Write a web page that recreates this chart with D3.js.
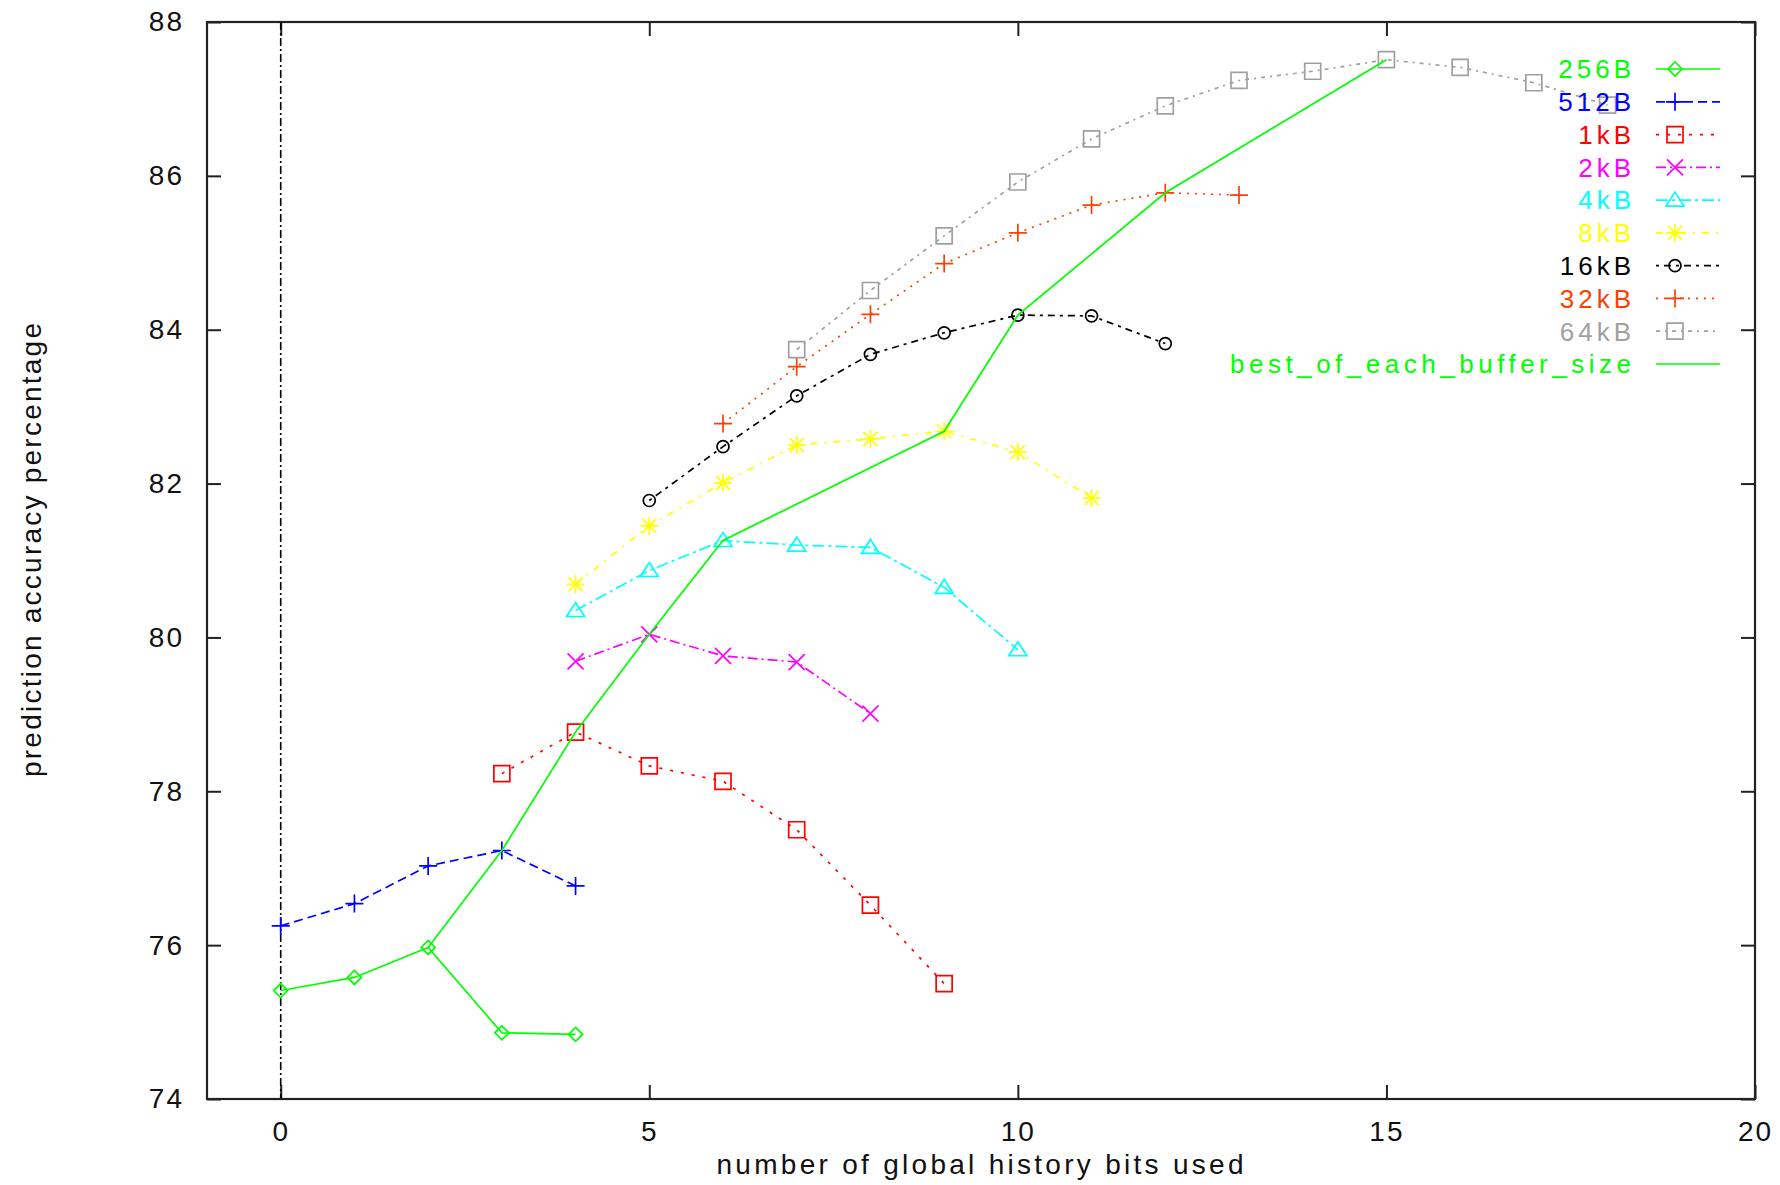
<!DOCTYPE html>
<head>
  <meta charset="utf-8">
  <style>
    body { margin: 0; background: #fff; }
    svg { display: block; font-family: 'Liberation Sans', Arial, sans-serif; }
  </style>
  <script src="https://cdn.jsdelivr.net/npm/d3@7"></script>
</head>
<body>
<div id=chart></div>
<script>
// global history bits (x) and prediction accuracy (y), one pair per buffer size
const bits_256B = [0, 1, 2, 3, 4]
const acc_256B = [75.41, 75.58, 75.97, 74.86, 74.84]
const bits_512B = [0, 1, 2, 3, 4]
const acc_512B = [76.25, 76.54, 77.03, 77.23, 76.77]
const bits_1kB = [3, 4, 5, 6, 7, 8, 9]
const acc_1kB = [78.23, 78.77, 78.33, 78.13, 77.50, 76.52, 75.50]
const bits_2kB = [4, 5, 6, 7, 8]
const acc_2kB = [79.69, 80.04, 79.76, 79.68, 79.01]
const bits_4kB = [4, 5, 6, 7, 8, 9, 10]
const acc_4kB = [80.35, 80.87, 81.26, 81.20, 81.17, 80.65, 79.84]
const bits_8kB = [4, 5, 6, 7, 8, 9, 10, 11]
const acc_8kB = [80.69, 81.45, 82.01, 82.50, 82.58, 82.68, 82.41, 81.81]
const bits_16kB = [5, 6, 7, 8, 9, 10, 11, 12]
const acc_16kB = [81.78, 82.48, 83.14, 83.68, 83.96, 84.19, 84.18, 83.82]
const bits_32kB = [6, 7, 8, 9, 10, 11, 12, 13]
const acc_32kB = [82.78, 83.52, 84.20, 84.86, 85.26, 85.62, 85.78, 85.75]
const bits_64kB = [7, 8, 9, 10, 11, 12, 13, 14, 15, 16, 17, 18]
const acc_64kB = [83.74, 84.51, 85.22, 85.92, 86.48, 86.91, 87.24, 87.36, 87.51, 87.41, 87.21, 86.92]
const bits_best = [2, 3, 4, 5, 6, 9, 10, 12, 15]
const acc_best = [75.97, 77.23, 78.77, 80.04, 81.26, 82.68, 84.19, 85.78, 87.51]

const series_names = ['256B', '512B', '1kB', '2kB', '4kB', '8kB', '16kB', '32kB', '64kB', 'best_of_each_buffer_size']
const x_ticks = [0, 5, 10, 15, 20]
const y_ticks = [74, 76, 78, 80, 82, 84, 86, 88]
const x_title = 'number of global history bits used'
const y_title = 'prediction accuracy percentage'

// styles (gnuplot-ish)
const styles = [
  { color: '#00ff00', dash: null, mark: 'diamond' },
  { color: '#0000ff', dash: '9,5', mark: 'plus' },
  { color: '#ff0000', dash: '3,8', mark: 'square' },
  { color: '#ff00ff', dash: '10,4,2,4', mark: 'cross' },
  { color: '#00ffff', dash: '12,4,3,4', mark: 'triangle' },
  { color: '#ffff00', dash: '7,7,2,7', mark: 'star' },
  { color: '#000000', dash: '3,5,7,5', mark: 'circle' },
  { color: '#ff4000', dash: '2,6', mark: 'plus' },
  { color: '#a0a0a0', dash: '4,5,2,5', mark: 'square' },
  { color: '#00ff00', dash: null, mark: null },
]

const series = [
  [bits_256B, acc_256B], [bits_512B, acc_512B], [bits_1kB, acc_1kB],
  [bits_2kB, acc_2kB], [bits_4kB, acc_4kB], [bits_8kB, acc_8kB],
  [bits_16kB, acc_16kB], [bits_32kB, acc_32kB], [bits_64kB, acc_64kB],
  [bits_best, acc_best],
].map(([xs, ys], i) => ({
  name: series_names[i],
  ...styles[i],
  points: xs.map((x, j) => ({ x, y: ys[j] })),
}))

const width = 1780, height = 1185
const margin = { left: 207, right: 1780 - 1755, top: 22, bottom: 1185 - 1099 }

const x = d3.scaleLinear([-1, 20], [margin.left, width - margin.right])
const y = d3.scaleLinear([74, 88], [height - margin.bottom, margin.top])

const svg = d3.select('#chart').append('svg')
  .attr('width', width)
  .attr('height', height)
  .attr('viewBox', [0, 0, width, height])

svg.append('rect').attr('width', width).attr('height', height).attr('fill', '#fff')

const marker_path = (type) => {
  switch (type) {
    case 'diamond': return 'M0,-7L7,0L0,7L-7,0Z'
    case 'plus': return 'M-9,0H9M0,-9V9'
    case 'square': return 'M-8,-8H8V8H-8Z'
    case 'cross': return 'M-8,-8L8,8M-8,8L8,-8'
    case 'triangle': return 'M0,-8L9,6H-9Z'
    case 'star': return 'M-9,0H9M0,-9V9M-7,-7L7,7M-7,7L7,-7'
    case 'circle': return 'M6,0A6,6 0 1,1 -6,0A6,6 0 1,1 6,0Z'
  }
  return ''
}

const tick_len = 14
const font_size = 28

// axes: ticks inward on all four sides
const ax = svg.append('g').attr('font-size', font_size).attr('fill', '#000')
ax.append('g')
  .attr('transform', `translate(${margin.left},0)`)
  .call(d3.axisLeft(y).tickValues(y_ticks).tickSize(-tick_len).tickPadding(23).tickFormat(d3.format('d')))
ax.append('g')
  .attr('transform', `translate(${width - margin.right},0)`)
  .call(d3.axisRight(y).tickValues(y_ticks).tickSize(-tick_len).tickFormat(''))
ax.append('g')
  .attr('transform', `translate(0,${height - margin.bottom})`)
  .call(d3.axisBottom(x).tickValues(x_ticks).tickSize(-tick_len).tickPadding(22).tickFormat(d3.format('d')))
ax.append('g')
  .attr('transform', `translate(0,${margin.top})`)
  .call(d3.axisTop(x).tickValues(x_ticks).tickSize(-tick_len).tickFormat(''))
ax.selectAll('.domain').remove()
ax.selectAll('.tick line').attr('stroke', '#222').attr('stroke-width', 2)
ax.selectAll('.tick text')
  .attr('font-family', "'Liberation Sans', Arial, sans-serif")
  .attr('font-size', font_size)
  .attr('letter-spacing', 2)
  .attr('fill', '#111')

// zero axis
svg.append('line')
  .attr('x1', x(0)).attr('x2', x(0))
  .attr('y1', margin.top).attr('y2', height - margin.bottom)
  .attr('stroke', '#000')
  .attr('stroke-width', 1.6)
  .attr('stroke-dasharray', '8,3,2,3')

// border
svg.append('rect')
  .attr('x', margin.left).attr('y', margin.top)
  .attr('width', width - margin.left - margin.right)
  .attr('height', height - margin.top - margin.bottom)
  .attr('fill', 'none')
  .attr('stroke', '#222')
  .attr('stroke-width', 2.2)

// series
const line = d3.line().x(d => x(d.x)).y(d => y(d.y))
const g_series = svg.append('g')
series.forEach(s => {
  const g = g_series.append('g')
  g.append('path')
    .attr('d', line(s.points))
    .attr('fill', 'none')
    .attr('stroke', s.color)
    .attr('stroke-width', 1.7)
    .attr('stroke-dasharray', s.dash)
  if (s.mark) {
    g.selectAll('path.mark')
      .data(s.points)
      .join('path')
      .attr('class', 'mark')
      .attr('transform', d => `translate(${x(d.x)},${y(d.y)})`)
      .attr('d', marker_path(s.mark))
      .attr('fill', 'none')
      .attr('stroke', s.color)
      .attr('stroke-width', 1.7)
  }
})

// legend
const legend = svg.append('g')
const legend_y = d3.scaleLinear([0, series.length - 1], [69, 364])
series.forEach((s, i) => {
  const row = legend.append('g').attr('transform', `translate(0,${legend_y(i)})`)
  const label = row.append('text')
    .attr('x', 1635)
    .attr('dy', '0.36em')
    .attr('text-anchor', 'end')
    .attr('font-size', 26)
    .attr('fill', s.color)
    .text(s.name)
  if (s.mark) label.attr('letter-spacing', 4)
  else label.attr('x', 1631).attr('textLength', 401).attr('lengthAdjust', 'spacing')
  row.append('line')
    .attr('x1', 1656).attr('x2', 1720)
    .attr('stroke', s.color)
    .attr('stroke-width', 1.7)
    .attr('stroke-dasharray', s.dash)
  if (s.mark) {
    row.append('path')
      .attr('transform', 'translate(1675,0)')
      .attr('d', marker_path(s.mark))
      .attr('fill', 'none')
      .attr('stroke', s.color)
      .attr('stroke-width', 1.7)
  }
})

// axis titles
svg.append('text')
  .attr('x', 980).attr('y', 1174)
  .attr('text-anchor', 'middle')
  .attr('font-size', font_size)
  .attr('textLength', 527)
  .attr('lengthAdjust', 'spacing')
  .attr('fill', '#111')
  .text(x_title)
svg.append('text')
  .attr('transform', 'translate(41,550) rotate(-90)')
  .attr('text-anchor', 'middle')
  .attr('font-size', font_size)
  .attr('textLength', 454)
  .attr('lengthAdjust', 'spacing')
  .attr('fill', '#111')
  .text(y_title)
</script>
</body>
